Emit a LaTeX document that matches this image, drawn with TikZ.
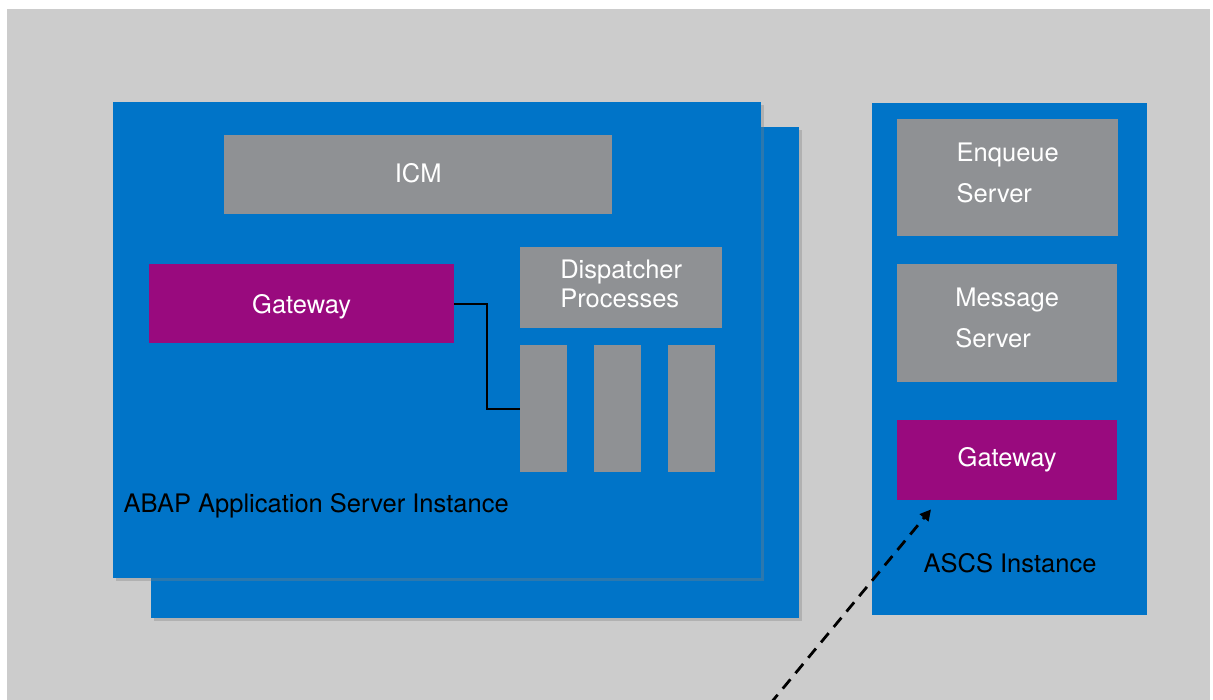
\documentclass[tikz,border=0pt]{standalone}
\usepackage{fontspec}
\setmainfont{TeX Gyre Heros}
\usepackage{tikz}
\usetikzlibrary{arrows.meta, calc, shadows}

\definecolor{sapblue}{RGB}{0,116,200}
\definecolor{boxgray}{RGB}{143,145,148}
\definecolor{gwpurple}{RGB}{153,10,126}
\definecolor{bggray}{RGB}{204,204,204}

\begin{document}
\begin{tikzpicture}[x=1pt, y=-1pt,
    inst/.style={fill=sapblue, anchor=north west, inner sep=0pt},
    instshadow/.style={inst, drop shadow={shadow xshift=3pt, shadow yshift=-3pt, opacity=0.35}},
    svc/.style={fill=boxgray, anchor=north west, inner sep=0pt, text=white,
        align=left, font=\fontsize{25.5}{29}\selectfont},
    gw/.style={svc, fill=gwpurple},
    lbl/.style={text=black, font=\fontsize{25.5}{29}\selectfont}]

        % Page and background
        \useasboundingbox (0,0) rectangle (1213,700);
        \fill[white] (0,0) rectangle (1213,700);
        \fill[bggray] (7,9) rectangle (1210,700);

        % ABAP instances (second one behind)
        \node[instshadow, minimum width=648pt, minimum height=491pt] (abapback) at (151,127) {};
        \node[instshadow, minimum width=648pt, minimum height=476pt] (abap) at (113,102) {};

        % ICM, gateway and dispatcher
        \node[svc, minimum width=388pt, minimum height=79pt, text depth=3pt] (icm) at (224,135) {ICM};
        \node[gw, minimum width=305pt, minimum height=79pt, text depth=0pt] (gwabap) at (149,264) {Gateway};
        \node[svc, minimum width=202pt, minimum height=81pt, text depth=8pt] (disp) at (520,247) {Dispatcher\\Processes};

        % Work processes
        \node[svc, minimum width=47pt, minimum height=127pt] (wp1) at (520,345) {};
        \node[svc, minimum width=47pt, minimum height=127pt] (wp2) at (594,345) {};
        \node[svc, minimum width=47pt, minimum height=127pt] (wp3) at (668,345) {};

        % Gateway to first work process
        \draw[line width=2pt] (gwabap.east) -- ++(33,0) |- (wp1.west);

        % Label
        \node[lbl, anchor=west] (abaplbl) at (120,506) {ABAP Application Server Instance};

        % ASCS instance
        \node[inst, minimum width=275pt, minimum height=512pt] (ascs) at (872,103) {};
        \node[svc, minimum width=221pt, minimum height=117pt, text depth=10pt] (enq) at (897,119) {Enqueue\\[12pt]Server};
        \node[svc, minimum width=220pt, minimum height=118pt, text depth=10pt] (msg) at (897,264) {Message\\[12pt]Server};
        \node[gw, minimum width=220pt, minimum height=80pt] (gwascs) at (897,420) {Gateway};
        \node[lbl] (ascslbl) at (1010,563) {ASCS Instance};

        % Incoming connection (dashed)
        \coordinate (src) at (770,704);
        \draw[line width=2.8pt, dash pattern=on 12pt off 8pt, -{Triangle[length=11pt,width=11pt]}]
            (src) -- ($(gwascs.south west)+(34,9)$);
    \end{tikzpicture}
\end{document}
